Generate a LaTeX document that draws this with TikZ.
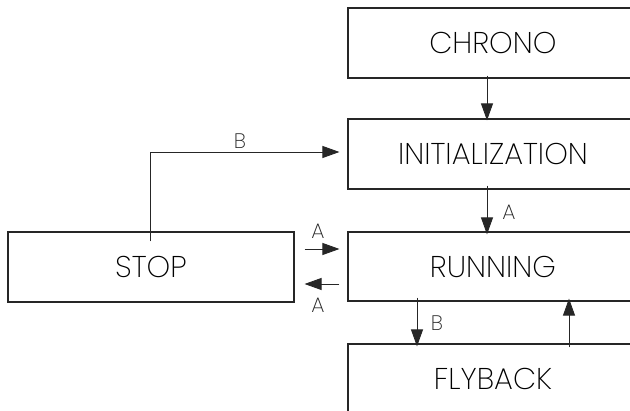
\documentclass[tikz,border=0pt]{standalone}
\usepackage{fontspec}
\setmainfont{Poppins}[UprightFont={* ExtraLight}]
\usetikzlibrary{arrows.meta}
\begin{document}
\begin{tikzpicture}[x=1pt,y=-1pt,
  box/.style={draw=black!85,line width=1.1pt,minimum width=290pt,minimum height=70pt,inner sep=0pt,font=\fontsize{30}{30}\selectfont},
  arr/.style={line width=0.9pt,draw=black!85,-{Triangle[length=17pt,width=12pt]}},
  lab/.style={font=\fontsize{21}{21}\selectfont,inner sep=0pt,text=black!85}]
\useasboundingbox (0,0) rectangle (630,411);
\clip (0,0) rectangle (630,411);
\node[box] (chrono) at (493,43) {CHRONO};
\node[box] (init) at (493,154) {INITIALIZATION};
\node[box,minimum height=69pt] (run) at (493,266.5) {RUNNING};
\node[box] (fly) at (493,379) {FLYBACK};
\node[box,minimum width=286pt] (stop) at (151,267) {STOP};
% vertical arrows
\draw[arr] ([xshift=-6pt,yshift=3pt]chrono.south) -- ([xshift=-6pt,yshift=-2pt]init.north);
\draw[arr] ([xshift=-6pt,yshift=4pt]init.south) -- ([xshift=-6pt,yshift=-3pt]run.north);
\node[lab] at (509,212) {A};
\draw[arr] ([xshift=-76pt,yshift=4pt]run.south) -- ([xshift=-76pt,yshift=-3pt]fly.north);
\node[lab] at (437,323) {B};
\draw[arr] ([xshift=76pt,yshift=-4pt]fly.north) -- ([xshift=76pt,yshift=3pt]run.south);
% horizontal arrows
\coordinate (bt) at ([xshift=-1pt,yshift=-10pt]stop.north);
\draw[arr] (bt) |- ([xshift=-8pt]init.west |- 0,152) ;
\node[lab] at (240,141) {B};
\draw[arr] ([xshift=10pt]stop.east |- 0,249) -- ([xshift=-8pt]run.west |- 0,249);
\node[lab] at (318,231) {A};
\draw[arr] ([xshift=-8pt]run.west |- 0,284) -- ([xshift=10pt]stop.east |- 0,284);
\node[lab] at (318,305) {A};
\end{tikzpicture}
\end{document}
